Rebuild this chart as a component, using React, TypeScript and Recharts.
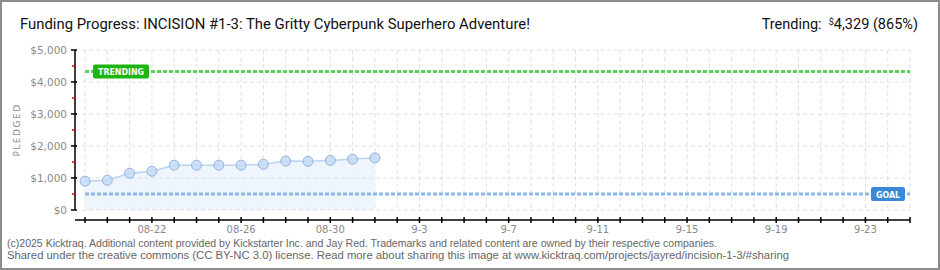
import { Area, CartesianGrid, ComposedChart, ReferenceLine, XAxis, YAxis } from "recharts";

// daily pledge totals, campaign runs 08-19 .. 09-25
const pledgeDates = ["08-19", "08-20", "08-21", "08-22", "08-23", "08-24", "08-25", "08-26", "08-27", "08-28", "08-29", "08-30", "08-31", "09-01"];
const pledged = [900, 930, 1150, 1210, 1400, 1400, 1400, 1400, 1430, 1530, 1520, 1550, 1590, 1630];
const campaignDays = 38;
const goal = 500;
const trending = 4329;

const dateTickLabels = ["08-22", "08-26", "08-30", "9-3", "9-7", "9-11", "9-15", "9-19", "9-23"];
const dateTickDays = [3, 7, 11, 15, 19, 23, 27, 31, 35];
const yTicks = [0, 500, 1000, 1500, 2000, 2500, 3000, 3500, 4000, 4500, 5000];
const yGrid = [0, 1000, 2000, 3000, 4000, 5000];

const data = pledgeDates.map((date, i) => ({ day: i, date, pledged: pledged[i] }));
const dayTicks = Array.from({ length: campaignDays }, (_, i) => i);

const money = (v: number) => "$" + v.toLocaleString("en-US");

function YTick({ x, y, payload }: any) {
    const ax = x + 8;
    const major = payload.value % 1000 === 0;
    return (
        <g>
            {major ? (
                <line x1={ax - 4} x2={ax + 2} y1={y} y2={y} stroke="#000" strokeWidth={1.5} />
            ) : (
                <line x1={ax - 3} x2={ax} y1={y} y2={y} stroke="#e00000" strokeWidth={1.5} />
            )}
            {major && (
                <text x={x} y={y + 4} textAnchor="end" fill="#8a8a8a" fontSize={10.5} fontFamily="DejaVu Sans">
                    {money(payload.value)}
                </text>
            )}
        </g>
    );
}

function XTick({ x, y, payload }: any) {
    const k = dateTickDays.indexOf(payload.value);
    return (
        <g>
            <line x1={x} x2={x} y1={y + 7} y2={y + 13} stroke="#000" strokeWidth={1.5} />
            {k >= 0 && (
                <text x={x} y={y + 23} textAnchor="middle" fill="#8a8a8a" fontSize={10} fontFamily="DejaVu Sans">
                    {dateTickLabels[k]}
                </text>
            )}
        </g>
    );
}

function Tag({ viewBox, text, color, right }: any) {
    const w = right ? 34 : 56;
    const x = right ? viewBox.x + viewBox.width - w - 5 : viewBox.x + 8;
    const y = viewBox.y - 7;
    return (
        <g>
            <rect x={x} y={y} width={w} height={14} rx={2} fill={color} />
            <text x={x + w / 2} y={y + 10.5} textAnchor="middle" fill="#fff" fontSize={9.5} fontWeight="bold"
                fontFamily="DejaVu Sans" textLength={w - 10} lengthAdjust="spacingAndGlyphs">
                {text}
            </text>
        </g>
    );
}

export default function App() {
    return (
        <div style={{ position: "absolute", left: 0, top: 0, width: 940, height: 270, boxSizing: "border-box", border: "2px solid #8c8c8c", background: "#fff" }}>
            <svg width={940} height={270} style={{ position: "absolute", left: -2, top: -2 }}>
                <text x={20} y={29} fontSize={14.5} fontFamily="Roboto" fill="#111" textLength={510} lengthAdjust="spacingAndGlyphs">
                    Funding Progress: INCISION #1-3: The Gritty Cyberpunk Superhero Adventure!
                </text>
                <text x={918} y={29} textAnchor="end" fontSize={14.5} fontFamily="Roboto" fill="#111">
                    Trending:{"\u00a0\u00a0"}
                    <tspan fontSize={9} dy={-4}>$</tspan>
                    <tspan dy={4}>4,329 (865%)</tspan>
                </text>
                <text x={7} y={247} fontSize={10} fontFamily="Liberation Sans" fill="#666" textLength={710} lengthAdjust="spacingAndGlyphs">
                    (c)2025 Kicktraq. Additional content provided by Kickstarter Inc. and Jay Red. Trademarks and related content are owned by their respective companies.
                </text>
                <text x={7} y={259} fontSize={10} fontFamily="Liberation Sans" fill="#666" textLength={782} lengthAdjust="spacingAndGlyphs">
                    Shared under the creative commons (CC BY-NC 3.0) license. Read more about sharing this image at www.kicktraq.com/projects/jayred/incision-1-3/#sharing
                </text>
            </svg>
            <div style={{ position: "absolute", left: -2, top: -2 }}>
                <ComposedChart width={940} height={270} data={data} margin={{ top: 50, right: 30, bottom: 0, left: 0 }}>
                    <CartesianGrid stroke="#e0e0e0" strokeDasharray="4 3" horizontal={false} />
                    {yGrid.map((v) => (
                        <ReferenceLine key={v} y={v} stroke="#e0e0e0" strokeDasharray="4 3" />
                    ))}
                    <XAxis
                        type="number"
                        dataKey="day"
                        domain={[-0.45, campaignDays - 1]}
                        ticks={dayTicks}
                        interval={0}
                        height={60}
                        tickSize={0}
                        tickMargin={0}
                        tickLine={false}
                        axisLine={{ stroke: "#000", strokeWidth: 1.5, transform: "translate(0 10)" }}
                        tick={<XTick />}
                    />
                    <YAxis
                        domain={[0, 5000]}
                        ticks={yTicks}
                        interval={0}
                        width={75}
                        tickSize={0}
                        tickMargin={8}
                        tickLine={false}
                        axisLine={{ stroke: "#000", strokeWidth: 1.5 }}
                        tick={<YTick />}
                        label={(p: any) => (
                            <text x={20} y={p.viewBox.y + p.viewBox.height / 2} transform={`rotate(-90 20 ${p.viewBox.y + p.viewBox.height / 2})`}
                                textAnchor="middle" fill="#8a8a8a" fontSize={9} fontFamily="DejaVu Sans" letterSpacing={1.5}>
                                PLEDGED
                            </text>
                        )}
                    />
                    <Area
                        type="linear"
                        dataKey="pledged"
                        stroke="#b9d4f1"
                        strokeWidth={1.5}
                        fill="#ebf3fd"
                        fillOpacity={0.85}
                        dot={{ r: 5, fill: "#c4dbf6", stroke: "#93b4dc", strokeWidth: 1 }}
                        activeDot={false}
                        isAnimationActive={false}
                    />
                    <ReferenceLine
                        segment={[{ x: 0, y: goal }, { x: campaignDays - 1, y: goal }]}
                        stroke="#8ab6e8"
                        strokeWidth={3}
                        strokeDasharray="4 2"
                        label={(p: any) => <Tag viewBox={p.viewBox} text="GOAL" color="#3a89d8" right />}
                    />
                    <ReferenceLine
                        segment={[{ x: 0, y: trending }, { x: campaignDays - 1, y: trending }]}
                        stroke="#5fcf5f"
                        strokeWidth={3}
                        strokeDasharray="4 2"
                        label={(p: any) => <Tag viewBox={p.viewBox} text="TRENDING" color="#1db512" />}
                    />
                </ComposedChart>
            </div>
        </div>
    );
}
